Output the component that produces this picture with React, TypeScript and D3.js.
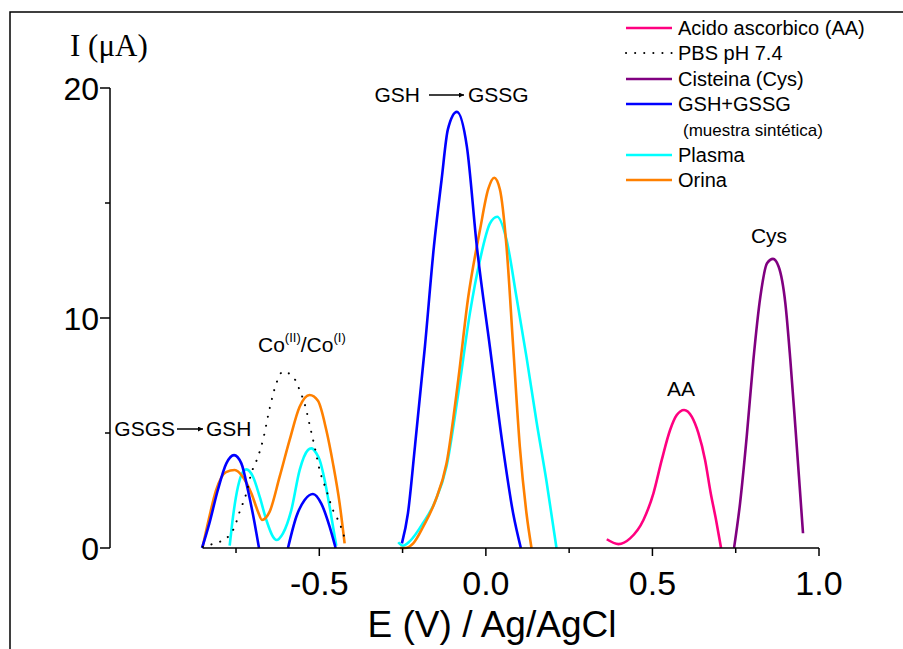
import React from "react";
import * as d3 from "d3";

type P = [number, number];

// E (V) vs I (uA) series
const acidoAscorbico: P[] = [
  [0.363, 0.38], [0.398, 0.17], [0.433, 0.42], [0.473, 1.22], [0.503, 2.38], [0.528, 3.83],
  [0.553, 5.13], [0.573, 5.78], [0.595, 6.0], [0.618, 5.71], [0.638, 4.99], [0.658, 3.83],
  [0.675, 2.38], [0.691, 1.22], [0.706, 0.0],
];
const pbs: P[] = [
  [-0.85, 0.05], [-0.815, 0.2], [-0.779, 0.42], [-0.754, 0.93], [-0.739, 1.58], [-0.719, 2.38],
  [-0.704, 3.25], [-0.684, 3.97], [-0.669, 4.7], [-0.649, 6.07], [-0.629, 7.16], [-0.609, 7.67],
  [-0.579, 7.45], [-0.559, 6.87], [-0.539, 6.0], [-0.529, 5.35], [-0.514, 4.4], [-0.499, 3.39],
  [-0.479, 2.52], [-0.459, 1.65], [-0.439, 1.07], [-0.419, 0.2],
];
const cisteina: P[] = [
  [0.745, 0.0], [0.763, 1.94], [0.783, 4.84], [0.803, 8.17], [0.824, 10.93], [0.844, 12.38],
  [0.862, 12.57], [0.879, 12.23], [0.899, 10.64], [0.914, 8.17], [0.929, 5.28], [0.942, 2.67],
  [0.952, 0.64],
];
const gshA: P[] = [
  [-0.852, 0.0], [-0.83, 1.07], [-0.805, 2.5], [-0.779, 3.68], [-0.756, 4.04], [-0.734, 3.68],
  [-0.714, 2.5], [-0.694, 1.07], [-0.681, 0.0],
];
const gshB: P[] = [
  [-0.594, 0.0], [-0.569, 1.36], [-0.544, 2.09], [-0.519, 2.35], [-0.494, 1.93], [-0.469, 0.93],
  [-0.451, 0.0],
];
const gshC: P[] = [
  [-0.252, 0.2], [-0.234, 1.5], [-0.213, 4.4], [-0.183, 8.75], [-0.156, 13.1], [-0.133, 16.0],
  [-0.114, 18.2], [-0.087, 18.96], [-0.057, 17.45], [-0.027, 13.1], [0.012, 8.75], [0.051, 4.4],
  [0.082, 1.5], [0.105, 0.0],
];
const plasmaA: P[] = [
  [-0.769, 0.1], [-0.759, 1.36], [-0.744, 2.67], [-0.729, 3.32], [-0.719, 3.42], [-0.699, 3.1],
  [-0.679, 2.23], [-0.659, 1.22], [-0.639, 0.49], [-0.629, 0.35], [-0.609, 0.64], [-0.584, 1.65],
  [-0.559, 3.39], [-0.534, 4.26], [-0.524, 4.33], [-0.509, 4.12], [-0.499, 3.83], [-0.484, 2.96],
  [-0.469, 1.8], [-0.449, 0.1],
];
const plasmaB: P[] = [
  [-0.263, 0.25], [-0.249, 0.1], [-0.228, 0.3], [-0.188, 1.1], [-0.153, 2.0], [-0.118, 3.55],
  [-0.083, 6.7], [-0.048, 10.2], [-0.018, 12.5], [0.012, 14.1], [0.034, 14.4], [0.062, 13.4],
  [0.092, 10.9], [0.122, 8.3], [0.152, 5.5], [0.182, 2.9], [0.212, 0.0],
];
const orinaA: P[] = [
  [-0.85, 0.06], [-0.83, 1.36], [-0.81, 2.5], [-0.78, 3.3], [-0.754, 3.39], [-0.73, 3.1],
  [-0.704, 2.38], [-0.684, 1.58], [-0.672, 1.22], [-0.649, 1.58], [-0.619, 3.1], [-0.589, 4.7],
  [-0.559, 6.14], [-0.529, 6.65], [-0.504, 6.4], [-0.479, 5.13], [-0.459, 3.68], [-0.439, 1.94],
  [-0.424, 0.2],
];
const orinaB: P[] = [
  [-0.258, 0.0], [-0.243, 0.0], [-0.218, 0.2], [-0.188, 0.93], [-0.153, 2.0], [-0.118, 3.68],
  [-0.083, 7.3], [-0.053, 10.9], [-0.018, 13.8], [0.007, 15.6], [0.025, 16.1], [0.042, 15.6],
  [0.062, 13.1], [0.082, 8.75], [0.102, 4.4], [0.122, 1.5], [0.137, 0.0],
];

const xTicksMajor = [-0.5, 0.0, 0.5, 1.0];
const xTicksMinor = [-0.75, -0.25, 0.25, 0.75];
const yTicksMajor = [0, 10, 20];
const yTicksMinor = [5, 15];

const legendItems = [
  { label: "Acido ascorbico (AA)", color: "#FF0080", dotted: false },
  { label: "PBS pH 7.4", color: "#000000", dotted: true },
  { label: "Cisteina (Cys)", color: "#800080", dotted: false },
  { label: "GSH+GSSG", color: "#0000FF", dotted: false },
  { label: "(muestra sintética)", color: "", dotted: false },
  { label: "Plasma", color: "#00FFFF", dotted: false },
  { label: "Orina", color: "#FF8000", dotted: false },
];

const series = [
  { data: acidoAscorbico, color: "#FF0080", dotted: false },
  { data: cisteina, color: "#800080", dotted: false },
  { data: plasmaA, color: "#00FFFF", dotted: false },
  { data: plasmaB, color: "#00FFFF", dotted: false },
  { data: orinaA, color: "#FF8000", dotted: false },
  { data: orinaB, color: "#FF8000", dotted: false },
  { data: gshA, color: "#0000FF", dotted: false },
  { data: gshB, color: "#0000FF", dotted: false },
  { data: gshC, color: "#0000FF", dotted: false },
  { data: pbs, color: "#000000", dotted: true },
];

const font = "Arial, 'Liberation Sans', sans-serif";

export default function App() {
  const x = d3.scaleLinear().domain([-0.85, 1.0]).range([202.7, 819]);
  const y = d3.scaleLinear().domain([0, 20]).range([548, 88]);
  const line = d3
    .line<P>()
    .x((d) => x(d[0]))
    .y((d) => y(d[1]))
    .curve(d3.curveMonotoneX);
  const axisX = 110;

  return (
    <svg
      width={903}
      height={649}
      style={{ position: "absolute", left: 0, top: 0, background: "#fff" }}
      fontFamily={font}
    >
      <defs>
        <marker id="arr" viewBox="0 0 10 10" refX="10" refY="5" markerWidth="7" markerHeight="5" orient="auto" markerUnits="userSpaceOnUse">
          <path d="M0,0 L10,5 L0,10 z" fill="#000" />
        </marker>
      </defs>
      <rect x={10} y={12} width={1000} height={1000} fill="none" stroke="#000" strokeWidth={1.5} />

      {/* series */}
      {series.map((s, i) => (
        <path
          key={i}
          d={line(s.data) || ""}
          fill="none"
          stroke={s.color}
          strokeWidth={s.dotted ? 2 : 2.6}
          strokeDasharray={s.dotted ? "0.1 9" : undefined}
          strokeLinecap={s.dotted ? "round" : "butt"}
        />
      ))}

      {/* y axis */}
      <line x1={axisX} x2={axisX} y1={y(20)} y2={y(0)} stroke="#000" strokeWidth={1.5} />
      {yTicksMajor.map((t) => (
        <g key={t}>
          <line x1={axisX - 10} x2={axisX} y1={y(t)} y2={y(t)} stroke="#000" strokeWidth={1.5} />
          <text x={axisX - 11} y={y(t)} dy="0.36em" textAnchor="end" fontSize={32}>
            {t}
          </text>
        </g>
      ))}
      {yTicksMinor.map((t) => (
        <line key={t} x1={axisX - 5} x2={axisX} y1={y(t)} y2={y(t)} stroke="#000" strokeWidth={1.5} />
      ))}
      <text x={70} y={56} fontSize={31} fontFamily="'Times New Roman', 'Liberation Serif', serif">
        I (μA)
      </text>

      {/* x axis */}
      <line x1={x(-0.85)} x2={x(1.0)} y1={548} y2={548} stroke="#000" strokeWidth={1.5} />
      {xTicksMajor.map((t) => (
        <g key={t}>
          <line x1={x(t)} x2={x(t)} y1={548} y2={556} stroke="#000" strokeWidth={1.5} />
          <text x={x(t)} y={595} textAnchor="middle" fontSize={34}>
            {t.toFixed(1)}
          </text>
        </g>
      ))}
      {xTicksMinor.map((t) => (
        <line key={t} x1={x(t)} x2={x(t)} y1={548} y2={553} stroke="#000" strokeWidth={1.5} />
      ))}
      <text x={492} y={637} textAnchor="middle" fontSize={37}>
        E (V) / Ag/AgCl
      </text>

      {/* annotations */}
      <text x={420} y={102} textAnchor="end" fontSize={21}>GSH</text>
      <line x1={429} x2={464} y1={95} y2={95} stroke="#000" strokeWidth={1.5} markerEnd="url(#arr)" />
      <text x={468} y={102} fontSize={21}>GSSG</text>

      <text x={175} y={436} textAnchor="end" fontSize={21}>GSGS</text>
      <line x1={177} x2={203} y1={429} y2={429} stroke="#000" strokeWidth={1.5} markerEnd="url(#arr)" />
      <text x={206} y={436} fontSize={21}>GSH</text>

      <text x={258} y={352} fontSize={21}>
        Co
        <tspan fontSize={13} dy={-10}>(II)</tspan>
        <tspan dy={10}>/Co</tspan>
        <tspan fontSize={13} dy={-10}>(I)</tspan>
      </text>

      <text x={681} y={396} textAnchor="middle" fontSize={21}>AA</text>
      <text x={769} y={243} textAnchor="middle" fontSize={21}>Cys</text>

      {/* legend */}
      {legendItems.map((it, i) => {
        const rowY = [28, 53, 79, 104, 130, 155, 180][i];
        const sub = it.color === "";
        return (
          <g key={i}>
            {!sub && (
              <line
                x1={626}
                x2={672}
                y1={rowY}
                y2={rowY}
                stroke={it.color}
                strokeWidth={it.dotted ? 2 : 2.6}
                strokeDasharray={it.dotted ? "0.1 9" : undefined}
                strokeLinecap={it.dotted ? "round" : "butt"}
              />
            )}
            <text x={sub ? 683 : 678} y={rowY} dy="0.36em" fontSize={sub ? 17 : 20}>
              {it.label}
            </text>
          </g>
        );
      })}
    </svg>
  );
}
